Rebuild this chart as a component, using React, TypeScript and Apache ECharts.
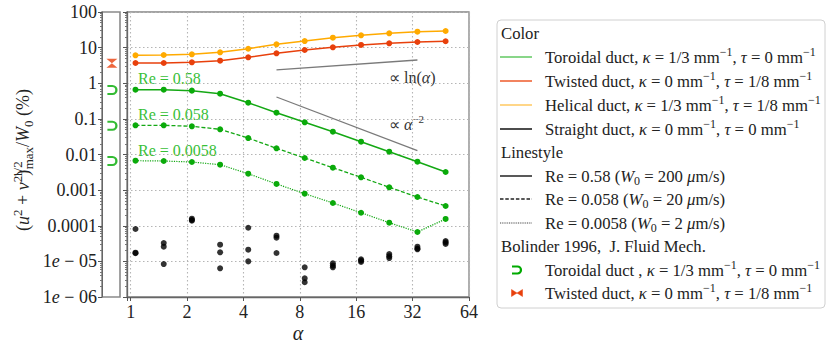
import { useEffect, useRef } from 'react';
import * as echarts from 'echarts';

// ---------- data ----------
const alphas = [1.06, 1.5, 2.12, 3, 4.24, 6, 8.49, 12, 16.97, 24, 33.94, 48];
const toroidalRe058 = [0.66, 0.66, 0.62, 0.51, 0.285, 0.149, 0.08, 0.0437, 0.0229, 0.012, 0.00628, 0.00323];
const toroidalRe0058 = [0.0661, 0.0661, 0.0619, 0.051, 0.029, 0.0149, 0.00798, 0.00426, 0.00229, 0.0012, 0.000641, 0.000358];
const toroidalRe00058 = [0.0067, 0.00656, 0.00615, 0.00517, 0.00289, 0.00149, 0.000794, 0.000435, 0.000232, 0.000122, 0.0000668, 0.000155];
const twisted = [3.7, 3.7, 3.87, 4.3, 5.35, 6.93, 8.58, 10.2, 11.9, 13.2, 14.4, 15.1];
const helical = [6.08, 6.2, 6.5, 7.4, 9.3, 12.4, 15.3, 19.0, 22.2, 25.2, 28.0, 29.3];
const straightA = [8.1e-5, 3.28e-5, 1.58e-4, 2.94e-5, 8.8e-5, 5.26e-5, 6.8e-6, 8.8e-6, 1.14e-5, 1.61e-5, 2.58e-5, 3.73e-5];
const straightB = [1.75e-5, 2.58e-5, 1.45e-4, 1.8e-5, 2.13e-5, 4.62e-5, 3.35e-6, 7.6e-6, 1.05e-5, 1.4e-5, 2.3e-5, 3.4e-5];
const straightC = [1.7e-5, 8.4e-6, 1.39e-4, 6.4e-6, 1.0e-5, 1.72e-5, 2.59e-6, 6.8e-6, 9.6e-6, 1.24e-5, 2.18e-5, 3.08e-5];
const lnRefAlpha = [6, 33.94];
const lnRefValue = [2.36, 4.5];
const powRefAlpha = [6, 33.94];
const powRefValue = [0.411, 0.0128];
const bolinderToroidal = [0.647, 0.0643, 0.00656];
const bolinderTwisted = [3.63];
const xTickLabels = ['1', '2', '4', '8', '16', '32', '64'];

// ---------- styles ----------
const SERIF = "'Liberation Serif', 'Times New Roman', serif";
const GREEN = '#14a814';
const RED = '#e8400c';
const YELLOW = '#ffaa00';
const LGREEN = '#62c862';
const LRED = '#ee5a2a';
const LYELLOW = '#ffc860';
const TXT = '#222';
const LEG_FS = 16.7;

echarts.graphic.registerShape('cupR', echarts.graphic.extendPath('M-5,-3.5 L0.5,-3.5 A3.5,3.5 0 0 1 0.5,3.5 L-5,3.5', {}));
echarts.graphic.registerShape('bowtie', echarts.graphic.extendPath('M-5.5,-3.5 L-5.5,3.5 L5.5,-3.5 L5.5,3.5 Z', {}));

const pair = (xs: number[], ys: number[]) => xs.map((x, i) => [x, ys[i]]);

function fmtY(v: number): string {
  const e = Math.round(Math.log10(v));
  if (e >= 0) return String(Math.pow(10, e));
  if (e >= -4) return '0.' + '0'.repeat(-e - 1) + '1';
  return '1{i|e} − 0' + String(-e);
}

const richBase = (size: number, color: string) => ({
  n: { fontSize: size, fontFamily: SERIF, fill: color, lineHeight: size + 6, verticalAlign: 'middle' },
  i: { fontSize: size, fontFamily: SERIF, fontStyle: 'italic', fill: color, lineHeight: size + 6, verticalAlign: 'middle' },
  sp: { fontSize: Math.round(size * 0.7), fontFamily: SERIF, fill: color, lineHeight: Math.round(size * 0.7), verticalAlign: 'top' },
  sq: { fontSize: Math.round(size * 0.7), fontFamily: SERIF, fill: color, lineHeight: Math.round(size * 0.7), verticalAlign: 'top', width: 0.5 },
  sb: { fontSize: Math.round(size * 0.7), fontFamily: SERIF, fill: color, lineHeight: Math.round(size * 0.7), verticalAlign: 'bottom' },
});

const mkText = (x: number, y: number, text: string, size: number, color: string, extra: any = {}) => ({
  type: 'text',
  x,
  y,
  ...extra,
  style: {
    text,
    rich: richBase(size, color),
    fontSize: size,
    fontFamily: SERIF,
    fill: color,
    align: extra.align || 'left',
    verticalAlign: 'middle',
  },
});

const legendRows = [
  { kind: 'head', y: 33, text: '{n|Color}' },
  { kind: 'line', y: 57, color: LGREEN, dash: 'solid', text: '{n|Toroidal duct, }{i|κ}{n| = 1/3 mm}{sp|−1}{n|, }{i|τ}{n| = 0 mm}{sp|−1}' },
  { kind: 'line', y: 81, color: LRED, dash: 'solid', text: '{n|Twisted duct, }{i|κ}{n| = 0 mm}{sp|−1}{n|, }{i|τ}{n| = 1/8 mm}{sp|−1}' },
  { kind: 'line', y: 105, color: LYELLOW, dash: 'solid', text: '{n|Helical duct, }{i|κ}{n| = 1/3 mm}{sp|−1}{n|, }{i|τ}{n| = 1/8 mm}{sp|−1}' },
  { kind: 'line', y: 129, color: '#111', dash: 'solid', text: '{n|Straight duct, }{i|κ}{n| = 0 mm}{sp|−1}{n|, }{i|τ}{n| = 0 mm}{sp|−1}' },
  { kind: 'head', y: 152, text: '{n|Linestyle}' },
  { kind: 'line', y: 176, color: '#222', dash: 'solid', text: '{n|Re = 0.58 (}{i|W}{sb|0}{n| = 200 }{i|μ}{n|m/s)}' },
  { kind: 'line', y: 199, color: '#222', dash: 'dashed', text: '{n|Re = 0.058 (}{i|W}{sb|0}{n| = 20 }{i|μ}{n|m/s)}' },
  { kind: 'line', y: 223, color: '#444', dash: 'dotted', text: '{n|Re = 0.0058 (}{i|W}{sb|0}{n| = 2 }{i|μ}{n|m/s)}' },
  { kind: 'head', y: 246, text: '{n|Bolinder 1996,  J. Fluid Mech.}' },
  { kind: 'cup', y: 270, text: '{n|Toroidal duct , }{i|κ}{n| = 1/3 mm}{sp|−1}{n|, }{i|τ}{n| = 0 mm}{sp|−1}' },
  { kind: 'bow', y: 293, text: '{n|Twisted duct, }{i|κ}{n| = 0 mm}{sp|−1}{n|, }{i|τ}{n| = 1/8 mm}{sp|−1}' },
];

function buildLegend(): any[] {
  const els: any[] = [
    { type: 'rect', shape: { x: 497, y: 20, width: 328, height: 288, r: 4 }, style: { fill: '#fff', stroke: '#d0d0d0', lineWidth: 1 } },
  ];
  legendRows.forEach((r: any) => {
    if (r.kind === 'head') {
      els.push(mkText(501, r.y, r.text, LEG_FS, TXT));
      return;
    }
    if (r.kind === 'line') {
      const dash = r.dash === 'dashed' ? [3.5, 1.8] : r.dash === 'dotted' ? [1, 0.8] : null;
      els.push({ type: 'line', shape: { x1: 500, y1: r.y, x2: 532, y2: r.y }, style: { stroke: r.color, lineWidth: r.dash === 'dotted' ? 1 : 1.5, lineDash: dash } });
    } else if (r.kind === 'cup') {
      els.push({ type: 'cupR', x: 517, y: r.y, style: { stroke: '#0a0', fill: 'none', lineWidth: 2.2 } });
    } else if (r.kind === 'bow') {
      els.push({ type: 'bowtie', x: 517, y: r.y, style: { fill: RED, stroke: RED, lineWidth: 0.5 } });
    }
    els.push(mkText(545, r.y, r.text, LEG_FS, TXT));
  });
  return els;
}

export default function App() {
  const ref = useRef<HTMLDivElement>(null);
  useEffect(() => {
    document.body.style.margin = '0';
    const chart = echarts.init(ref.current!, null, { renderer: 'svg' });
    const gridLine = { show: true, lineStyle: { color: '#b5b5b5', type: [1.5, 2.5], width: 1.1 } };
    const circ = (color: string) => ({ symbol: 'circle', symbolSize: 6, itemStyle: { color } });
    const option: any = {
      animation: false,
      backgroundColor: '#fff',
      grid: [
        { left: 127, top: 12, width: 342, height: 285, show: true, borderColor: '#858585', borderWidth: 1.3, backgroundColor: 'transparent' },
        { left: 102, top: 12, width: 18, height: 285, show: true, borderColor: '#8a8a8a', borderWidth: 1.6, backgroundColor: 'transparent' },
      ],
      xAxis: [
        {
          gridIndex: 0,
          type: 'log',
          logBase: 2,
          min: 0.955,
          max: 64,
          splitNumber: 6,
          axisLine: { show: true, lineStyle: { color: '#666', width: 1.3 } },
          axisTick: { show: true, inside: false, length: 4, lineStyle: { color: '#555' } },
          splitLine: gridLine,
          axisLabel: {
            margin: 6,
            color: TXT,
            fontSize: 18,
            fontFamily: SERIF,
            formatter: (v: number) => {
              const l = Math.log2(v);
              const k = Math.round(l);
              return Math.abs(l - k) < 1e-6 && k >= 0 && k < xTickLabels.length ? xTickLabels[k] : '';
            },
          },
        },
        { gridIndex: 1, type: 'value', min: 0, max: 1, show: false },
      ],
      yAxis: [
        {
          gridIndex: 0,
          type: 'log',
          logBase: 10,
          min: 1e-6,
          max: 100,
          splitNumber: 8,
          axisLine: { show: true, lineStyle: { color: '#666', width: 1.3 } },
          axisTick: { show: true, inside: false, length: 4, lineStyle: { color: '#555' } },
          minorTick: { show: true, splitNumber: 9, length: 2, lineStyle: { color: '#777' } },
          splitLine: gridLine,
          axisLabel: { show: false },
        },
        {
          gridIndex: 1,
          type: 'log',
          logBase: 10,
          min: 1e-6,
          max: 100,
          splitNumber: 8,
          axisLine: { show: true, lineStyle: { color: '#666', width: 1 } },
          axisTick: { show: true, inside: false, length: 4, lineStyle: { color: '#555' } },
          minorTick: { show: true, splitNumber: 9, length: 2, lineStyle: { color: '#777' } },
          splitLine: { show: false },
          axisLabel: {
            margin: 5,
            color: TXT,
            fontSize: 18,
            fontFamily: SERIF,
            formatter: fmtY,
            rich: { i: { fontSize: 18, fontFamily: SERIF, fontStyle: 'italic', color: TXT } },
          },
        },
      ],
      series: [
        { type: 'line', name: 'Helical', data: pair(alphas, helical), lineStyle: { color: YELLOW, width: 1.5 }, ...circ(YELLOW) },
        { type: 'line', name: 'Twisted', data: pair(alphas, twisted), lineStyle: { color: RED, width: 1.5 }, ...circ(RED) },
        { type: 'line', name: 'Toroidal 0.58', data: pair(alphas, toroidalRe058), lineStyle: { color: GREEN, width: 1.5 }, ...circ('#0aaa0a') },
        { type: 'line', name: 'Toroidal 0.058', data: pair(alphas, toroidalRe0058), lineStyle: { color: GREEN, width: 1.3, type: [4, 2] }, ...circ('#0aaa0a') },
        { type: 'line', name: 'Toroidal 0.0058', data: pair(alphas, toroidalRe00058), lineStyle: { color: GREEN, width: 1.2, type: [1.2, 1.2] }, ...circ('#0aaa0a') },
        { type: 'scatter', name: 'Straight A', data: pair(alphas, straightA), ...circ('#000') },
        { type: 'scatter', name: 'Straight B', data: pair(alphas, straightB), ...circ('#000') },
        { type: 'scatter', name: 'Straight C', data: pair(alphas, straightC), ...circ('#000') },
        { type: 'line', name: 'ln ref', data: pair(lnRefAlpha, lnRefValue), showSymbol: false, symbol: 'none', lineStyle: { color: '#7a7a7a', width: 1.3 } },
        { type: 'line', name: 'pow ref', data: pair(powRefAlpha, powRefValue), showSymbol: false, symbol: 'none', lineStyle: { color: '#7a7a7a', width: 1.3 } },
        {
          type: 'scatter', name: 'Bolinder toroidal', xAxisIndex: 1, yAxisIndex: 1,
          data: bolinderToroidal.map((v) => [0.55, v]),
          symbol: 'path://M0,0 L5,0 A4,4 0 0 1 5,8 L0,8', symbolSize: [9, 8],
          itemStyle: { color: 'rgba(0,0,0,0)', borderColor: '#0a0', borderWidth: 2.2 },
        },
        {
          type: 'scatter', name: 'Bolinder twisted', xAxisIndex: 1, yAxisIndex: 1,
          data: bolinderTwisted.map((v) => [0.55, v]),
          symbol: 'path://M0,0 L10,0 L0,10 L10,10 Z', symbolSize: [11, 9],
          itemStyle: { color: RED },
        },
      ],
      graphic: [
        mkText(138, 78, '{n|Re = 0.58}', 16, '#38c038'),
        mkText(138, 114, '{n|Re = 0.058}', 16, '#38c038'),
        mkText(138, 150, '{n|Re = 0.0058}', 16, '#38c038'),
        mkText(389, 77, '{n|∝ ln(}{i|α}{n|)}', 16, '#333'),
        mkText(389, 124, '{n|∝ }{i|α}{sp|−2}', 16, '#333'),
        mkText(298, 333, '{i|α}', 20, TXT, { align: 'center' }),
        {
          type: 'text', x: 23, y: 160, rotation: Math.PI / 2,
          style: {
            text: '{n|(}{i|u}{sp|2}{n| + }{i|v}{sp|2}{n|)}{sq|1/2}{sb|max}{n|/}{i|W}{sb|0}{n| (%)}',
            rich: richBase(18, TXT), fontSize: 18, fontFamily: SERIF, fill: TXT, align: 'center', verticalAlign: 'middle',
          },
        },
        ...buildLegend(),
      ],
    };
    chart.setOption(option);
    return () => chart.dispose();
  }, []);
  return <div ref={ref} style={{ width: 831, height: 348 }} />;
}
